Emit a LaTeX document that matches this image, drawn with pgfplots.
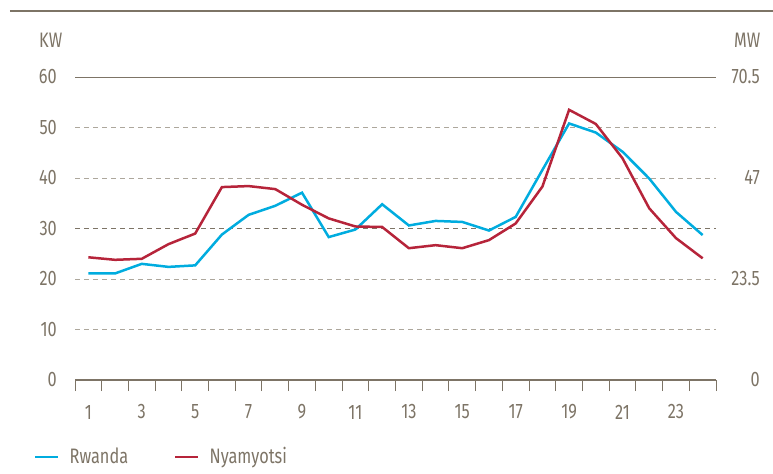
\documentclass[border=0pt]{standalone}
\usepackage{fontspec}
\setmainfont{Fira Sans}[FakeStretch=0.78]
\usepackage{pgfplots}
\pgfplotsset{compat=1.18}

\definecolor{txt}{HTML}{7D7466}
\definecolor{gridl}{HTML}{ADA79C}
\definecolor{rwanda}{HTML}{00ACDF}
\definecolor{nyam}{HTML}{B6243A}

% hourly load, KW (left axis)
\pgfplotstableread{
h  rwanda nyam
1  21.1   24.3
2  21.1   23.8
3  23.0   24.0
4  22.4   26.9
5  22.7   29.0
6  28.8   38.2
7  32.7   38.4
8  34.5   37.8
9  37.1   34.7
10 28.3   32.0
11 29.8   30.4
12 34.8   30.3
13 30.6   26.1
14 31.5   26.7
15 31.3   26.1
16 29.6   27.7
17 32.3   31.0
18 41.6   38.3
19 50.8   53.5
20 49.0   50.7
21 45.2   43.9
22 39.9   34.0
23 33.3   28.1
24 28.7   24.1
}\load

\begin{document}
\fontsize{21}{24}\selectfont
\begin{tikzpicture}
\useasboundingbox (-75bp,-94bp) rectangle (698bp,380bp);
\draw[txt, line width=1.2bp] (-65bp,369bp) -- (698bp,369bp);

\begin{axis}[
    at={(0,0)}, anchor=south west,
    scale only axis, width=641bp, height=303bp,
    xmin=0.5, xmax=24.5, ymin=0, ymax=60,
    axis x line*=bottom, axis y line*=left,
    y axis line style={draw=none},
    x axis line style={txt, line width=1.2bp},
    xtick={1,3,...,23},
    minor xtick={0.5,1.5,...,24.5},
    ytick={0,10,...,50},
    extra y ticks={60},
    extra y tick style={grid=none},
    major tick length=0pt, minor tick length=11bp,
    tick align=outside,
    tick style={txt, line width=1bp},
    ymajorgrids,
    major grid style={gridl, line width=1bp, dash pattern=on 5bp off 4bp},
    /pgf/number format/assume math mode=true,
    every tick label/.append style={text=txt},
    xticklabel style={anchor=center, inner sep=0pt, yshift=-32bp},
    yticklabel style={anchor=east, inner sep=0pt, xshift=-18bp},
    legend columns=2,
    legend style={at={(axis description cs:0,0)}, anchor=west,
        xshift=-41bp, yshift=-77bp, draw=none, fill=none,
        inner sep=0pt, nodes={inner sep=0pt, text=txt},
        /tikz/every even column/.append style={column sep=46bp},
        /tikz/every odd column/.append style={column sep=10bp}},
    legend image code/.code={\draw[#1, line width=2.5bp] (0bp,0bp) -- (23bp,0bp);},
]
\draw[txt, line width=1bp, dash pattern=on 5bp off 4bp]
    (axis cs:0.5,30) -- (axis cs:24.5,30);
\draw[txt, line width=1.3bp] (axis cs:0.5,60) -- (axis cs:24.5,60);
\addplot[rwanda, line width=2.5bp] table[x=h, y=rwanda] {\load};
\addlegendentry{Rwanda}
\addplot[nyam, line width=2.5bp] table[x=h, y=nyam] {\load};
\addlegendentry{Nyamyotsi}
\end{axis}

% right axis, MW
\begin{axis}[
    at={(0,0)}, anchor=south west,
    scale only axis, width=641bp, height=303bp,
    xmin=0.5, xmax=24.5, ymin=0, ymax=70.5,
    hide x axis, axis y line*=right,
    y axis line style={draw=none},
    ytick={0,23.5,47,70.5},
    yticklabels={0,23.5,47,70.5},
    major tick length=0pt,
    yticklabel style={anchor=east, inner sep=0pt, xshift=44bp, text=txt},
]
\end{axis}

\node[anchor=west, text=txt, inner sep=0pt] at (-36bp,340bp) {KW};
\node[anchor=east, text=txt, inner sep=0pt] at (685.5bp,340bp) {MW};
\end{tikzpicture}
\end{document}
